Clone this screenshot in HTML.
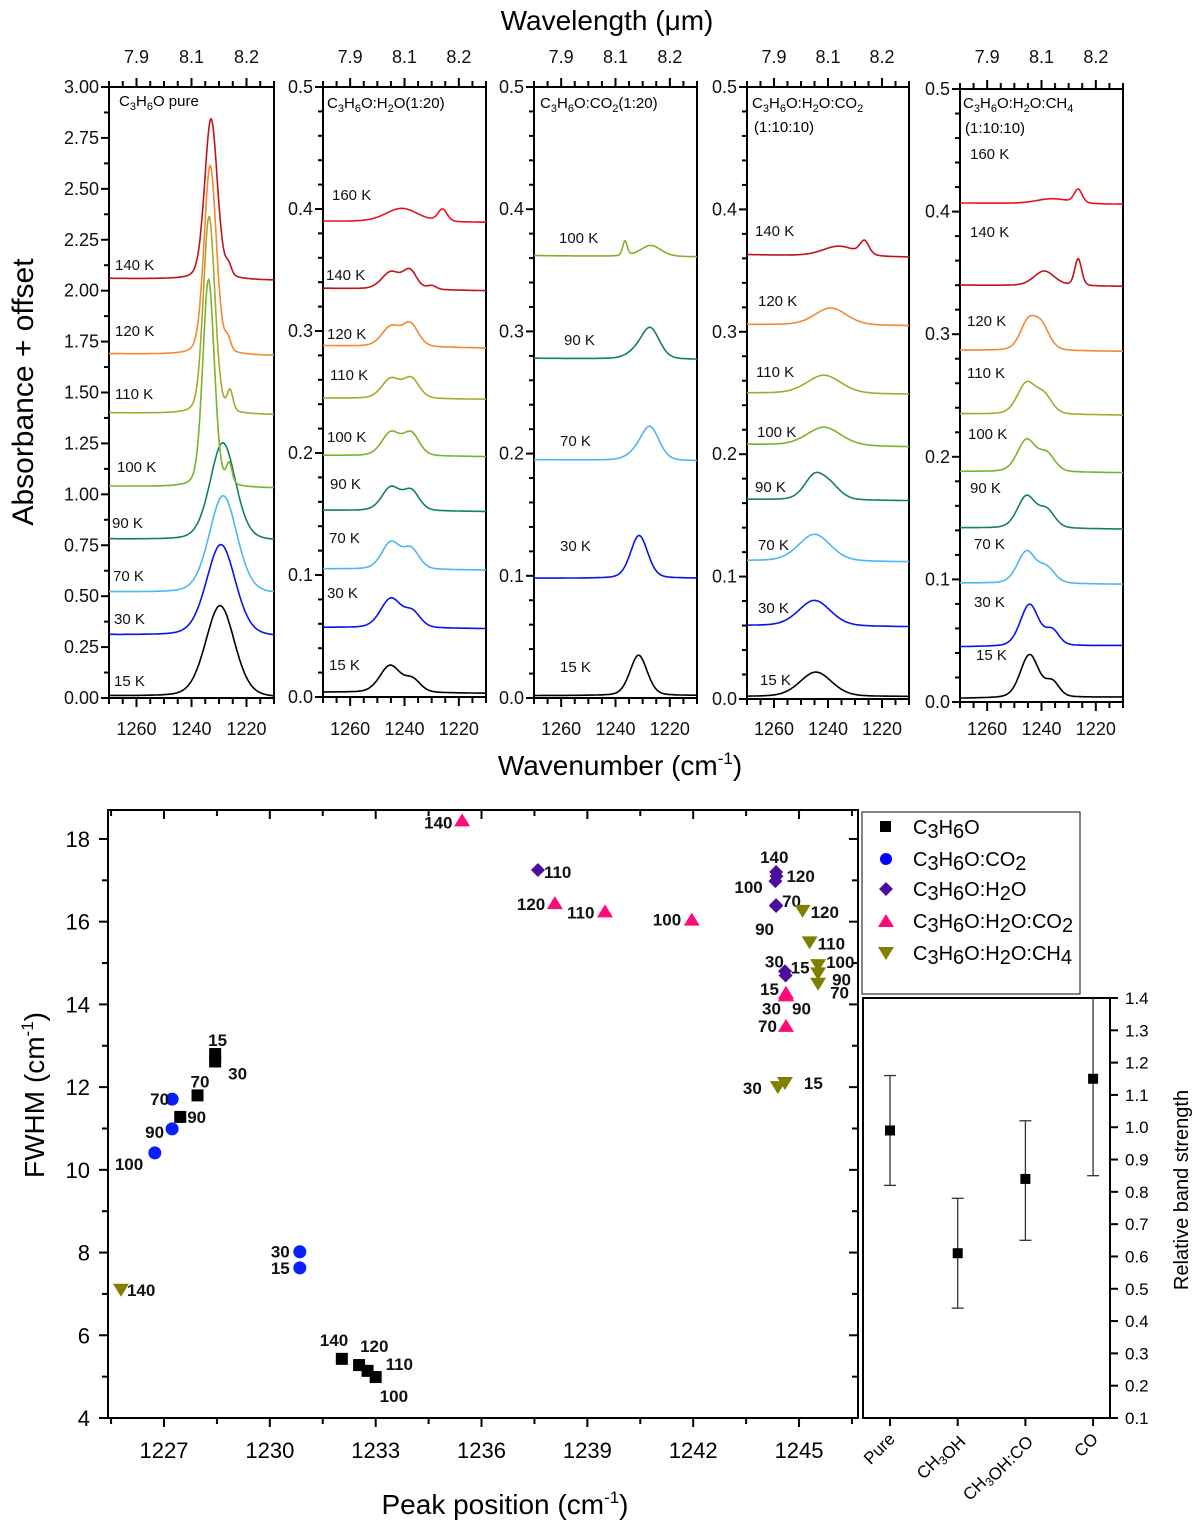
<!DOCTYPE html>
<html><head><meta charset="utf-8"><title>C3H6O spectra and FWHM chart</title>
<style>
html,body{margin:0;padding:0;background:#fff;}
svg{display:block;font-family:"Liberation Sans",Arial,sans-serif;}
.tk{font-size:18px;fill:#111;}
.tl{font-size:15px;fill:#111;}
.pl{font-size:17px;font-weight:bold;fill:#111;}
</style></head>
<body>
<svg id="fig" width="1200" height="1536" viewBox="0 0 1200 1536" xmlns="http://www.w3.org/2000/svg">
<g id="spectra"></g>
<text x="607" y="30" font-size="28" text-anchor="middle">Wavelength (μm)</text>
<text x="620" y="775" font-size="28" text-anchor="middle">Wavenumber (cm<tspan dy="-11" font-size="17">-1</tspan><tspan dy="11">)</tspan></text>
<text transform="translate(33,392) rotate(-90)" font-size="30" text-anchor="middle">Absorbance + offset</text>

<text x="119" y="106" font-size="15">C<tspan dy="4" font-size="11">3</tspan><tspan dy="-4">H</tspan><tspan dy="4" font-size="11">6</tspan><tspan dy="-4">O pure</tspan></text>
<text x="327" y="108" font-size="15">C<tspan dy="4" font-size="11">3</tspan><tspan dy="-4">H</tspan><tspan dy="4" font-size="11">6</tspan><tspan dy="-4">O:H</tspan><tspan dy="4" font-size="11">2</tspan><tspan dy="-4">O(1:20)</tspan></text>
<text x="540" y="108" font-size="15">C<tspan dy="4" font-size="11">3</tspan><tspan dy="-4">H</tspan><tspan dy="4" font-size="11">6</tspan><tspan dy="-4">O:CO</tspan><tspan dy="4" font-size="11">2</tspan><tspan dy="-4">(1:20)</tspan></text>
<text x="752" y="108" font-size="15">C<tspan dy="4" font-size="11">3</tspan><tspan dy="-4">H</tspan><tspan dy="4" font-size="11">6</tspan><tspan dy="-4">O:H</tspan><tspan dy="4" font-size="11">2</tspan><tspan dy="-4">O:CO</tspan><tspan dy="4" font-size="11">2</tspan></text>
<text x="754" y="132" font-size="15">(1:10:10)</text>
<text x="963" y="108" font-size="15">C<tspan dy="4" font-size="11">3</tspan><tspan dy="-4">H</tspan><tspan dy="4" font-size="11">6</tspan><tspan dy="-4">O:H</tspan><tspan dy="4" font-size="11">2</tspan><tspan dy="-4">O:CH</tspan><tspan dy="4" font-size="11">4</tspan></text>
<text x="965" y="133" font-size="15">(1:10:10)</text>

<g id="scatter"></g>
<text x="505" y="1514" font-size="28" text-anchor="middle">Peak position (cm<tspan dy="-11" font-size="17">-1</tspan><tspan dy="11">)</tspan></text>
<text transform="translate(44,1095) rotate(-90)" font-size="28" text-anchor="middle">FWHM (cm<tspan dy="-11" font-size="17">-1</tspan><tspan dy="11">)</tspan></text>

<g>
<rect x="862" y="812" width="218" height="182" fill="#fff" stroke="#333" stroke-width="1.2"/>
<rect x="880" y="821" width="11" height="11" fill="#000"/>
<circle cx="886" cy="859" r="6" fill="#0000ff"/>
<polygon points="886,882 893,889 886,896 879,889" fill="#4b0f9b"/>
<polygon points="886,914 894,927 878,927" fill="#ff0a78"/>
<polygon points="878,947 894,947 886,960" fill="#808000"/>
<text x="913" y="834" font-size="20">C<tspan dy="4">3</tspan><tspan dy="-4">H</tspan><tspan dy="4">6</tspan><tspan dy="-4">O</tspan></text>
<text x="913" y="866" font-size="20">C<tspan dy="4">3</tspan><tspan dy="-4">H</tspan><tspan dy="4">6</tspan><tspan dy="-4">O:CO</tspan><tspan dy="4">2</tspan></text>
<text x="913" y="896" font-size="20">C<tspan dy="4">3</tspan><tspan dy="-4">H</tspan><tspan dy="4">6</tspan><tspan dy="-4">O:H</tspan><tspan dy="4">2</tspan><tspan dy="-4">O</tspan></text>
<text x="913" y="928" font-size="20">C<tspan dy="4">3</tspan><tspan dy="-4">H</tspan><tspan dy="4">6</tspan><tspan dy="-4">O:H</tspan><tspan dy="4">2</tspan><tspan dy="-4">O:CO</tspan><tspan dy="4">2</tspan></text>
<text x="913" y="960" font-size="20">C<tspan dy="4">3</tspan><tspan dy="-4">H</tspan><tspan dy="4">6</tspan><tspan dy="-4">O:H</tspan><tspan dy="4">2</tspan><tspan dy="-4">O:CH</tspan><tspan dy="4">4</tspan></text>
</g>

<g id="inset"></g>
<text transform="translate(1188,1190) rotate(-90)" font-size="20" text-anchor="middle">Relative band strength</text>

<script>
// ===== Spectra data =====
const tempColors = {15:'#000000',30:'#0a14e6',70:'#4cb8f0',90:'#138062',100:'#7cb32a',110:'#a9a72b',120:'#f28a33',140:'#c0141a',160:'#e8141a'};
const p1Temps = [15,30,70,90,100,110,120,140];
const p1BaseL = [0.01,0.31,0.52,0.78,1.04,1.40,1.69,2.06];
const p1BaseR = [0.00,0.30,0.51,0.77,1.03,1.39,1.68,2.05];
const p1Peaks = [[[1229.6,0.45,12.5]],[[1229.3,0.45,12.5]],[[1228.5,0.48,12]],[[1228.6,0.48,11]],
  [[1233.8,1.02,5],[1226.3,0.10,2.5]],[[1233.6,0.97,5],[1226,0.10,2.5]],[[1233.2,0.93,5.3],[1226.8,0.06,2.5]],[[1232.9,0.79,5.5],[1226.5,0.05,2.5]]];
const p2Temps = [15,30,70,90,100,110,120,140,160];
const p2BaseL = [0.004,0.057,0.105,0.153,0.198,0.245,0.288,0.335,0.390];
const p2BaseR = [0.003,0.056,0.104,0.152,0.197,0.244,0.286,0.333,0.389];
const p2Peaks = [[[1245.3,0.022,9],[1237,0.010,7]],[[1245,0.024,9],[1237,0.012,7]],[[1245,0.022,8],[1237.5,0.016,7]],
  [[1245,0.019,8],[1237.5,0.016,7]],[[1245,0.019,8],[1237.5,0.018,7]],[[1245,0.016,8],[1237.5,0.016,7]],
  [[1245,0.016,8],[1237.8,0.018,7]],[[1245,0.014,8],[1238,0.015,6],[1230,0.003,4]],[[1241,0.011,14],[1226,0.010,4]]];
const p3Temps = [15,30,70,90,100];
const p3BaseL = [0.002,0.098,0.195,0.278,0.362];
const p3BaseR = [0.002,0.098,0.194,0.277,0.361];
const p3Peaks = [[[1231.5,0.033,7.5]],[[1231.3,0.035,7.5]],[[1227.3,0.027,8],[1233,0.004,8]],[[1227.2,0.025,8],[1233,0.004,8]],[[1236.5,0.012,2],[1227,0.009,9]]];
const p4Temps = [15,30,70,90,100,110,120,140];
const p4BaseL = [0.002,0.060,0.113,0.163,0.208,0.250,0.306,0.363];
const p4BaseR = [0.002,0.059,0.112,0.162,0.206,0.249,0.305,0.361];
const p4Peaks = [[[1244.5,0.020,14]],[[1245,0.021,14]],[[1245,0.022,14]],[[1245,0.019,9],[1239,0.010,9]],
  [[1241.5,0.015,15]],[[1241.5,0.015,15]],[[1239,0.014,14]],[[1236,0.008,14],[1226.5,0.011,4]]];
const p5Temps = [15,30,70,90,100,110,120,140,160];
const p5BaseL = [0.003,0.045,0.097,0.142,0.188,0.235,0.287,0.340,0.407];
const p5BaseR = [0.004,0.046,0.096,0.141,0.187,0.234,0.286,0.339,0.406];
const p5Peaks = [[[1244.4,0.035,8],[1236,0.012,6]],[[1244.4,0.034,8],[1236,0.012,6]],[[1245.5,0.026,8],[1238,0.012,7]],
  [[1245.5,0.026,8],[1238,0.014,7]],[[1245.5,0.026,8],[1238,0.014,7]],[[1245.5,0.025,8],[1239,0.014,7]],
  [[1245,0.022,7],[1240,0.019,7]],[[1239,0.012,9],[1226.5,0.022,3]],[[1236,0.004,14],[1226.5,0.011,3.5]]];
const yTicks1 = ['0.00','0.25','0.50','0.75','1.00','1.25','1.50','1.75','2.00','2.25','2.50','2.75','3.00'];
const yTicksN = ['0.0','0.1','0.2','0.3','0.4','0.5'];
const wnTicks = [1260,1240,1220];
const wlTicks = ['7.9','8.1','8.2'];

// ===== Scatter data =====
const sC3 = {t:[15,30,70,90,100,110,120,140], x:[1228.45,1228.45,1227.95,1227.46,1233.0,1232.77,1232.53,1232.04], y:[12.8,12.62,11.8,11.28,4.99,5.14,5.28,5.43]};
const sCO2 = {t:[15,30,70,90,100], x:[1230.85,1230.85,1227.23,1227.23,1226.74], y:[7.63,8.02,11.71,10.99,10.41]};
const sH2O = {t:[15,30,70,90,100,110,120,140], x:[1244.62,1244.6,1244.35,1244.35,1244.33,1237.6,1244.36,1244.35], y:[14.7,14.8,16.4,16.38,16.98,17.25,17.1,17.2]};
const sH2OCO2 = {t:[15,30,70,90,100,110,120,140], x:[1244.63,1244.63,1244.63,1244.63,1241.96,1239.5,1238.08,1235.45], y:[14.28,14.22,13.48,14.22,16.05,16.25,16.45,18.45]};
const sH2OCH4 = {t:[15,30,70,90,100,110,120,140], x:[1244.6,1244.4,1245.54,1245.54,1245.54,1245.3,1245.1,1225.78], y:[12.1,12.0,14.5,14.75,14.95,15.5,16.26,7.1]};
const xTickVals = [1227,1230,1233,1236,1239,1242,1245];
const yTickVals = [4,6,8,10,12,14,16,18];

// ===== Inset data =====
const insetCats = ['Pure','CH3OH','CH3OH:CO','CO'];
const insetVals = [0.99,0.61,0.84,1.15];
const insetLo = [0.82,0.44,0.65,0.85];
const insetHi = [1.16,0.78,1.02,1.45];
const insetTicks = [0.1,0.2,0.3,0.4,0.5,0.6,0.7,0.8,0.9,1.0,1.1,1.2,1.3,1.4];

const NS='http://www.w3.org/2000/svg';
function mk(tag, attrs, parent){const e=document.createElementNS(NS,tag);for(const k in attrs)e.setAttribute(k,attrs[k]);parent.appendChild(e);return e;}

// ----- Spectra panels -----
const spec=document.getElementById('spectra');
const panels=[
 {L:109,W:165,top:87,bot:698,ymax:3.0,temps:p1Temps,bl:p1BaseL,br:p1BaseR,pk:p1Peaks,ticks:yTicks1,major:0.25,minor:0.125,
  lab:{15:[114,686],30:[114,624],70:[113,581],90:[112,528],100:[117,472],110:[115,399],120:[115,336],140:[115,270]}},
 {L:323,W:163,top:87,bot:697,ymax:0.5,temps:p2Temps,bl:p2BaseL,br:p2BaseR,pk:p2Peaks,ticks:yTicksN,major:0.1,minor:0.02,
  lab:{15:[329,670],30:[327,598],70:[329,543],90:[330,489],100:[327,442],110:[330,380],120:[327,339],140:[326,280],160:[332,200]}},
 {L:534,W:163,top:87,bot:698,ymax:0.5,temps:p3Temps,bl:p3BaseL,br:p3BaseR,pk:p3Peaks,ticks:yTicksN,major:0.1,minor:0.02,
  lab:{15:[560,672],30:[560,551],70:[560,446],90:[564,345],100:[559,243]}},
 {L:747,W:162,top:87,bot:699,ymax:0.5,temps:p4Temps,bl:p4BaseL,br:p4BaseR,pk:p4Peaks,ticks:yTicksN,major:0.1,minor:0.02,
  lab:{15:[760,685],30:[758,613],70:[758,550],90:[755,492],100:[757,437],110:[756,377],120:[758,306],140:[755,236]}},
 {L:960,W:163,top:89,bot:702,ymax:0.5,temps:p5Temps,bl:p5BaseL,br:p5BaseR,pk:p5Peaks,ticks:yTicksN,major:0.1,minor:0.02,
  lab:{15:[976,660],30:[974,607],70:[974,549],90:[970,493],100:[968,439],110:[967,378],120:[967,326],140:[970,237],160:[970,159]}}
];
function pv(w,c,a,f){const d=(w-c);const g=Math.exp(-4*Math.LN2*d*d/(f*f));const l=1/(1+4*d*d/(f*f));return a*(0.75*g+0.25*l);}
panels.forEach((P,pi)=>{
  const xs=wn=>P.L+(1270-wn)*P.W/60;
  const ys=v=>P.bot-v*(P.bot-P.top)/P.ymax;
  const g=mk('g',{},spec);
  
  
  const fr=mk('rect',{x:P.L,y:P.top,width:P.W,height:P.bot-P.top,fill:'none',stroke:'#000','stroke-width':2},g);
  
  
  const n=Math.round(P.ymax/P.minor);
  for(let i=0;i<=n;i++){const v=i*P.minor;const y=ys(v);const isMaj=Math.abs(v/P.major-Math.round(v/P.major))<1e-6;
    const t=mk('line',{x1:P.L-(isMaj?8:5),x2:P.L,y1:y,y2:y,stroke:'#000','stroke-width':2},g);
    
    }
  P.ticks.forEach(s=>{const v=parseFloat(s);const t=mk('text',{x:P.L-10,y:ys(v)+6,'text-anchor':'end',class:'tk'},g);t.textContent=s;
    
    });
  for(let wn=1270;wn>=1210;wn-=5){const x=xs(wn);const isMaj=(wn%20===0);
    const b=mk('line',{x1:x,x2:x,y1:P.bot,y2:P.bot+(isMaj?9:6),stroke:'#000','stroke-width':2},g);
    
    
    const t=mk('line',{x1:x,x2:x,y1:P.top,y2:P.top-(isMaj?9:6),stroke:'#000','stroke-width':2},g);
    
    }
  wnTicks.forEach(w=>{const t=mk('text',{x:xs(w),y:735,'text-anchor':'middle',class:'tk'},g);t.textContent=w;
    
    });
  wlTicks.forEach((s,i)=>{const t=mk('text',{x:xs(wnTicks[i]),y:63,'text-anchor':'middle',class:'tk'},g);t.textContent=s;
    
    });
  P.temps.forEach((T,k)=>{
    let d='';
    for(let wn=1270;wn>=1210;wn-=0.25){const f=(1270-wn)/60;let v=P.bl[k]+(P.br[k]-P.bl[k])*f;
      P.pk[k].forEach(p=>{v+=pv(wn,p[0],p[1],p[2]);});
      d+=(d?'L':'M')+xs(wn).toFixed(1)+','+ys(v).toFixed(1);}
    const c=mk('path',{d:d,fill:'none',stroke:tempColors[T],'stroke-width':1.6},g);
    
    
    const lp=P.lab[T];const t=mk('text',{x:lp[0],y:lp[1],class:'tl'},g);t.textContent=T+' K';
    
    
  });
});

// ----- Scatter -----
const sc=document.getElementById('scatter');
const SL=108,SR=858,ST=810,SB=1418;
const sx=v=>164+(v-1227)*35.28;
const sy=v=>1418-(v-4)*41.36;
const fr2=mk('rect',{x:SL,y:ST,width:SR-SL,height:SB-ST,fill:'none',stroke:'#000','stroke-width':2},sc);


for(let v=1225.5;v<=1246.6;v+=1.5){const x=sx(v);const maj=Math.abs((v-1227)/3-Math.round((v-1227)/3))<1e-6;
  const a=mk('line',{x1:x,x2:x,y1:SB,y2:SB+(maj?9:6),stroke:'#000','stroke-width':2},sc);
  
  
  const b=mk('line',{x1:x,x2:x,y1:ST,y2:ST+(maj?9:6),stroke:'#000','stroke-width':2},sc);
  
  }
xTickVals.forEach(v=>{const t=mk('text',{x:sx(v),y:1458,'text-anchor':'middle','font-size':22},sc);t.textContent=v;
  
  });
for(let v=4;v<=18.7;v+=1){const y=sy(v);const maj=(v%2===0);
  const a=mk('line',{x1:SL-(maj?9:6),x2:SL,y1:y,y2:y,stroke:'#000','stroke-width':2},sc);
  
  
  const b=mk('line',{x1:SR-(maj?9:6),x2:SR,y1:y,y2:y,stroke:'#000','stroke-width':2},sc);
  
  }
yTickVals.forEach(v=>{const t=mk('text',{x:90,y:sy(v)+8,'text-anchor':'end','font-size':22},sc);t.textContent=v;
  
  });
// label offsets: text start (left edge, baseline) relative to marker — layout only
const offC3={15:[-7,-8],30:[13,18],70:[-7,-8],90:[7,6],100:[4,25],110:[18,-1],120:[1,-13],140:[-22,-13]};
const offCO2={15:[-29,6],30:[-29,6],70:[-22,6],90:[-27,9],100:[-40,17]};
const offH2O={15:[5,-2],30:[-20,-4],70:[6,2],90:[-21,29],100:[-41,12],110:[6,8],120:[10,6],140:[-16,-9]};
const offH2OCO2={15:[-26,2],30:[-24,19],70:[-28,6],90:[6,19],100:[-39,6],110:[-38,7],120:[-38,7],140:[-38,8]};
const offH2OCH4={15:[19,6],30:[-35,7],70:[12,15],90:[14,12],100:[8,3],110:[8,7],120:[8,7],140:[6,6]};
function drawSeries(S,shape,color,off,name){
  S.t.forEach((T,i)=>{const x=sx(S.x[i]),y=sy(S.y[i]);let m;
    if(shape==='sq')m=mk('rect',{x:x-6,y:y-6,width:12,height:12,fill:color},sc);
    else if(shape==='ci')m=mk('circle',{cx:x,cy:y,r:6.5,fill:color},sc);
    else if(shape==='di')m=mk('polygon',{points:`${x},${y-7} ${x+7},${y} ${x},${y+7} ${x-7},${y}`,fill:color},sc);
    else if(shape==='up')m=mk('polygon',{points:`${x},${y-7} ${x+8},${y+6} ${x-8},${y+6}`,fill:color},sc);
    else m=mk('polygon',{points:`${x-8},${y-6} ${x+8},${y-6} ${x},${y+7}`,fill:color},sc);
    
    
    const o=off[T];const t=mk('text',{x:x+o[0],y:y+o[1],class:'pl'},sc);
    t.textContent=T;
    
    });
}
drawSeries(sC3,'sq','#000',offC3,'c3h6o');
drawSeries(sCO2,'ci','#0a1eff',offCO2,'co2');
drawSeries(sH2O,'di','#4b0f9b',offH2O,'h2o');
drawSeries(sH2OCO2,'up','#ff0a78',offH2OCO2,'h2o-co2');
drawSeries(sH2OCH4,'dn','#808000',offH2OCH4,'h2o-ch4');

// ----- Inset -----
const ins=document.getElementById('inset');
const IL=863,IR=1110,IT=998,IB=1418;
const iy=v=>IB-(v-0.1)*(IB-IT)/1.3;
const ix=i=>890+i*67.7;
const fr3=mk('rect',{x:IL,y:IT,width:IR-IL,height:IB-IT,fill:'#fff',stroke:'#000','stroke-width':2},ins);


insetTicks.forEach(v=>{const y=iy(v);const a=mk('line',{x1:IR,x2:IR+8,y1:y,y2:y,stroke:'#000','stroke-width':2},ins);
  
  
  const t=mk('text',{x:IR+15,y:y+6,'font-size':17},ins);t.textContent=v.toFixed(1);
  
  });
insetCats.forEach((c,i)=>{const x=ix(i);
  const tk=mk('line',{x1:x,x2:x,y1:IB,y2:IB+8,stroke:'#000','stroke-width':2},ins);
  
  
  const hi=Math.max(iy(insetHi[i]),IT),lo=iy(insetLo[i]);
  const e=mk('line',{x1:x,x2:x,y1:hi,y2:lo,stroke:'#333','stroke-width':1.3},ins);
  
  
  if(iy(insetHi[i])>=IT){const c1=mk('line',{x1:x-6,x2:x+6,y1:hi,y2:hi,stroke:'#333','stroke-width':1.3},ins);
    
    }
  const c2=mk('line',{x1:x-6,x2:x+6,y1:lo,y2:lo,stroke:'#333','stroke-width':1.3},ins);
  
  
  const p=mk('rect',{x:x-5,y:iy(insetVals[i])-5,width:10,height:10,fill:'#000'},ins);
  
  
  const t=mk('text',{transform:`translate(${x+6},${IB+22}) rotate(-45)`,'text-anchor':'end','font-size':17},ins);
  
  
  const parts=c.split(/(\d)/);
  parts.forEach(s=>{if(!s)return;const isD=/^\d$/.test(s);
    const sp=mk('tspan',isD?{'font-size':12,dy:4}:{dy:0},t);sp.textContent=s;
    if(isD){const r=mk('tspan',{dy:-4},t);r.textContent='';}});
});
</script>
</svg>
</body></html>
